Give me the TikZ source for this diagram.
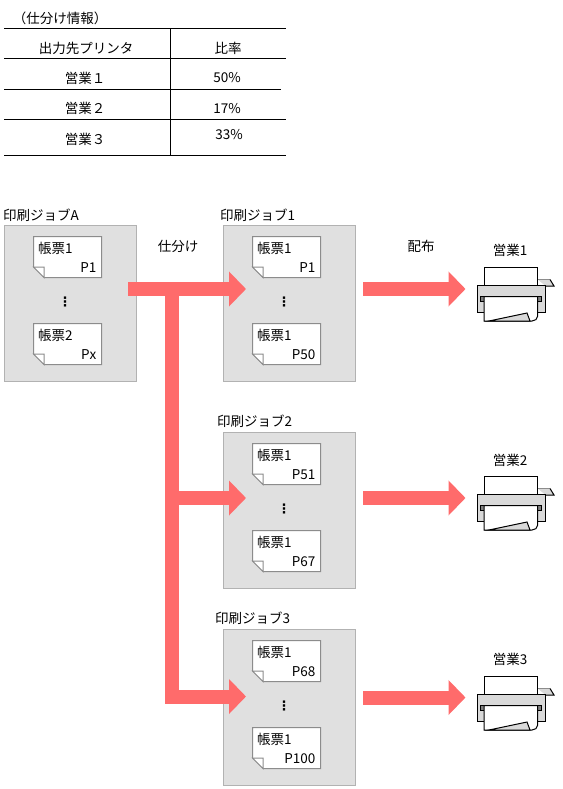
\documentclass[tikz,border=0pt]{standalone}
\usepackage{fontspec}
\setmainfont{Noto Sans CJK JP}
\newfontfamily\dotsfont{DejaVu Sans}
\usetikzlibrary{arrows.meta}
\definecolor{flowred}{HTML}{FF6B6B}
\definecolor{boxgray}{HTML}{E0E0E0}
\definecolor{boxedge}{HTML}{B2B2B2}
\definecolor{paperedge}{HTML}{8C8C8C}
\definecolor{bodygray}{HTML}{D9D9D9}
\tikzset{
  lbl/.style={inner sep=0pt,font=\fontsize{13.5}{13.5}\selectfont},
  rule/.style={line width=1pt,black},
  jobbox/.style={draw=boxedge,fill=boxgray,line width=1pt,minimum width=131.5pt,minimum height=156pt,inner sep=0pt,anchor=north west},
  flowline/.style={draw=flowred,line width=14pt},
  flowarrow/.style={flowline,-{Triangle[length=17pt,width=34pt]}},
  paperline/.style={draw=paperedge,fill=white,line width=1pt},
}
\newcommand{\docpaper}[5]{% name, x, y, title, page
  \draw[paperline] (#2,#3) -- ++(68,0) -- ++(0,41) -- ++(-57.5,0) -- ++(-10.5,-10.5) -- cycle;
  \draw[paperline] (#2,#3+30.5) -- ++(10.5,0) -- ++(0,10.5) -- cycle;
  \node[lbl,anchor=west] (#1t) at (#2+4.5,#3+12) {#4};
  \node[lbl,anchor=east] (#1p) at (#2+63,#3+31) {#5};
}
\newcommand{\jobgroup}[7]{% name, x, y, title1, page1, title2, page2
  \node[jobbox] (#1) at (#2,#3) {};
  \docpaper{#1a}{#2+29.5}{#3+11.5}{#4}{#5}
  \docpaper{#1b}{#2+29.5}{#3+98.5}{#6}{#7}
  \node[inner sep=0pt,font=\dotsfont\fontsize{13}{13}\selectfont\bfseries] (#1d) at (#2+61,#3+77) {⋮};
}
\newcommand{\printer}[5]{% name, x, y, label, label offset
  \node[lbl] (#1l) at (#2+33,#3-#5) {#4};
  \fill[bodygray] (#2+60.7,#3+12.5) -- (#2+73,#3+12.5) -- (#2+77,#3+19) -- (#2+68.7,#3+19) -- cycle;
  \draw[line width=1pt,paperedge] (#2+60.7,#3+12.5) -- (#2+73,#3+12.5);
  \draw[line width=1pt] (#2+73,#3+12.5) -- (#2+77,#3+19) -- (#2+68.7,#3+19);
  \draw[line width=1pt,fill=white] (#2+7,#3) rectangle (#2+60.7,#3+19);
  \draw[line width=1pt,fill=bodygray] (#2,#3+18.5) rectangle (#2+68.7,#3+45.5);
  \draw[line width=1pt,fill=gray] (#2+3,#3+29.5) rectangle (#2+7,#3+34.5);
  \draw[line width=1pt,fill=gray] (#2+60.7,#3+29.5) rectangle (#2+64.7,#3+34.5);
  \draw[line width=1pt,fill=white] (#2+7,#3+29.5) -- (#2+60.7,#3+29.5) -- (#2+60.7,#3+49) .. controls (#2+60.7,#3+52) and (#2+58,#3+54) .. (#2+55,#3+54) -- (#2+7,#3+54) -- cycle;
  \draw[line width=1pt,fill=bodygray] (#2+12,#3+54) -- (#2+50,#3+46) -- (#2+53,#3+54) -- cycle;
}
\begin{document}
\begin{tikzpicture}[x=1pt,y=-1pt]
\useasboundingbox (0,0) rectangle (562,789);
% table
\node[lbl] (title) at (60,18) {（仕分け情報）};
\coordinate (t1l) at (4,29); \coordinate (t1r) at (286,29);
\coordinate (t2l) at (4,58.5); \coordinate (t2r) at (286,58.5);
\coordinate (t3l) at (4,89.5); \coordinate (t3r) at (281,89.5);
\coordinate (t4l) at (4,119.5); \coordinate (t4r) at (286,119.5);
\coordinate (t5l) at (4,155.5); \coordinate (t5r) at (286,155.5);
\coordinate (vt) at (170.5,29); \coordinate (vb) at (170.5,155.5);
\foreach \a/\b in {t1l/t1r,t2l/t2r,t3l/t3r,t4l/t4r,t5l/t5r,vt/vb} \draw[rule] (\a) -- (\b);
\node[lbl] (h1) at (86,48) {出力先プリンタ};
\node[lbl] (h2) at (228,48) {比率};
\node[lbl] (r1) at (85,78) {営業１};
\node[lbl] (v1) at (227,78) {50\%};
\node[lbl] (r2) at (85,108) {営業２};
\node[lbl] (v2) at (227,109) {17\%};
\node[lbl] (r3) at (85,139) {営業３};
\node[lbl] (v3) at (229,135) {33\%};
% labels
\node[lbl,anchor=west] (ljA) at (3,215) {印刷ジョブA};
\node[lbl,anchor=west] (lj1) at (220,215) {印刷ジョブ1};
\node[lbl,anchor=west] (lj2) at (217,421) {印刷ジョブ2};
\node[lbl,anchor=west] (lj3) at (215,618) {印刷ジョブ3};
\node[lbl] (lsort) at (178,246) {仕分け};
\node[lbl] (ldist) at (421,246) {配布};
% job boxes
\jobgroup{jobA}{4}{225}{帳票1}{P1}{帳票2}{Px}
\jobgroup{job1}{223}{225}{帳票1}{P1}{帳票1}{P50}
\jobgroup{job2}{223}{432}{帳票1}{P51}{帳票1}{P67}
\jobgroup{job3}{223}{629}{帳票1}{P68}{帳票1}{P100}
% flows
\coordinate (s0) at (128,289); \coordinate (e1) at (246,289);
\coordinate (jt) at (172,289); \coordinate (jb) at (172,703.5);
\coordinate (j2) at (172,498); \coordinate (e2) at (246,498);
\coordinate (j3) at (172,696.5); \coordinate (e3) at (246,696.5);
\draw[flowline] (jt) -- (jb);
\draw[flowarrow] (s0) -- (e1);
\draw[flowarrow] (j2) -- (e2);
\draw[flowarrow] (j3) -- (e3);
\foreach \y [count=\i] in {289,498,697.5} {
  \coordinate (ps\i) at (363,\y); \coordinate (pe\i) at (465.5,\y);
  \draw[flowarrow] (ps\i) -- (pe\i);
}
% printers
\printer{pr1}{477}{267}{営業1}{16.5}
\printer{pr2}{477}{476}{営業2}{16}
\printer{pr3}{477}{676}{営業3}{17}
\end{tikzpicture}
\end{document}
